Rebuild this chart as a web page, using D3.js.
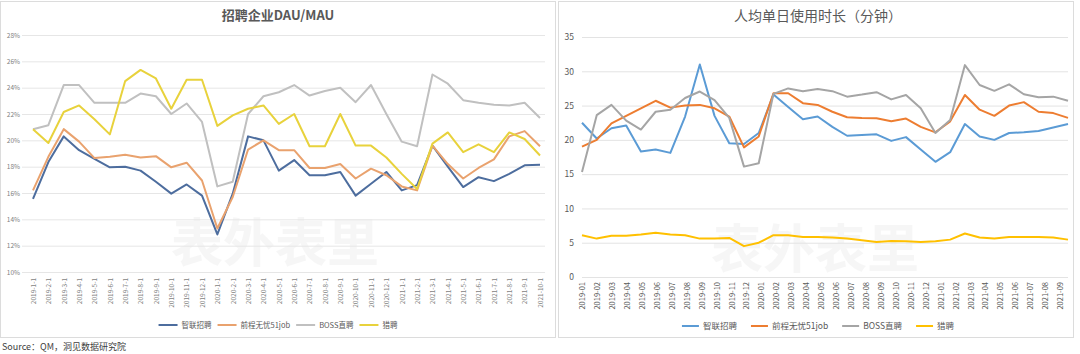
<!DOCTYPE html>
<html lang="zh">
<head>
<meta charset="utf-8">
<style>
  body { margin: 0; background: #fff; }
  text { font-family: "Noto Sans CJK SC", "Noto Sans", sans-serif; }
</style>
</head>
<body>
<script src="https://d3js.org/d3.v7.min.js"></script>
<script>
// ---- left chart: 招聘企业DAU/MAU (%) ----
const monthsL = ["2019-1-1","2019-2-1","2019-3-1","2019-4-1","2019-5-1","2019-6-1","2019-7-1","2019-8-1","2019-9-1","2019-10-1","2019-11-1","2019-12-1",
  "2020-1-1","2020-2-1","2020-3-1","2020-4-1","2020-5-1","2020-6-1","2020-7-1","2020-8-1","2020-9-1","2020-10-1","2020-11-1","2020-12-1",
  "2021-1-1","2021-2-1","2021-3-1","2021-4-1","2021-5-1","2021-6-1","2021-7-1","2021-8-1","2021-9-1","2021-10-1"];
const zhilianDau = [15.55,18.35,20.3,19.25,18.6,17.95,18.0,17.7,16.85,15.95,16.65,15.8,12.85,15.95,20.3,20.0,17.7,18.5,17.35,17.35,17.6,15.8,16.7,17.6,16.2,16.6,19.6,18.0,16.45,17.2,16.9,17.45,18.1,18.15];
const qianchengDau = [16.2,18.75,20.85,19.9,18.65,18.75,18.9,18.7,18.8,17.95,18.3,16.95,13.3,15.7,19.3,20.0,19.25,19.25,17.9,17.9,18.2,17.1,17.85,17.35,16.5,16.2,19.6,18.2,17.1,17.9,18.55,20.3,20.7,19.55];
const bossDau = [20.84,21.15,24.2,24.2,22.85,22.85,22.85,23.55,23.35,22.0,22.8,21.4,16.5,16.85,22.0,23.35,23.65,24.2,23.4,23.75,24.0,22.9,24.2,22.0,19.9,19.55,25.0,24.3,23.05,22.85,22.7,22.65,22.85,21.7];
const liepinDau = [20.84,19.8,22.15,22.65,21.6,20.45,24.5,25.35,24.7,22.4,24.6,24.6,21.1,21.9,22.4,22.65,21.25,22.0,19.55,19.55,22.0,19.6,19.6,18.7,17.45,16.3,19.75,20.6,19.1,19.7,19.1,20.6,20.1,18.85];
const ticksL = [10,12,14,16,18,20,22,24,26,28];

// ---- right chart: 人均单日使用时长（分钟） ----
const monthsR = ["2019-01","2019-02","2019-03","2019-04","2019-05","2019-06","2019-07","2019-08","2019-09","2019-10","2019-11","2019-12",
  "2020-01","2020-02","2020-03","2020-04","2020-05","2020-06","2020-07","2020-08","2020-09","2020-10","2020-11","2020-12",
  "2021-01","2021-02","2021-03","2021-04","2021-05","2021-06","2021-07","2021-08","2021-09"];
const zhilianTime = [22.5,20.2,21.7,22.1,18.3,18.6,18.1,23.4,31.0,23.5,19.5,19.4,21.0,26.6,24.8,23.0,23.4,21.9,20.6,20.7,20.8,19.85,20.4,18.6,16.8,18.2,22.3,20.5,20.0,21.0,21.1,21.3,21.8,22.3];
const qianchengTime = [19.0,20.0,22.4,23.5,24.6,25.7,24.7,25.0,25.1,24.6,23.4,18.9,20.5,26.8,26.8,25.35,25.1,24.1,23.3,23.2,23.15,22.7,23.1,21.9,21.1,22.7,26.55,24.4,23.5,25.0,25.5,24.1,23.9,23.2];
const bossTime = [15.3,23.6,25.1,22.8,21.5,24.1,24.4,26.1,27.05,25.8,23.2,16.1,16.6,26.7,27.5,27.1,27.4,27.1,26.3,26.6,26.95,25.9,26.55,24.6,21.0,22.9,30.9,28.0,27.15,28.1,26.65,26.2,26.3,25.7];
const liepinTime = [6.1,5.6,6.0,6.0,6.2,6.45,6.2,6.1,5.6,5.6,5.7,4.5,5.0,6.1,6.1,5.85,5.85,5.75,5.6,5.35,5.1,5.25,5.2,5.1,5.2,5.45,6.35,5.75,5.6,5.85,5.85,5.85,5.75,5.45];
const ticksR = [0,5,10,15,20,25,30,35];

const names = ["智联招聘","前程无忧51job","BOSS直聘","猎聘"];
const colorsL = ["#4d6d9e","#e9a26e","#c0c0c0","#e8d23c"];
const colorsR = ["#5b9bd5","#ed7d31","#a5a5a5","#ffc000"];

const svg = d3.select("body").append("svg")
  .attr("width", 1080).attr("height", 354);

// panel frames
svg.append("rect").attr("x", 0.5).attr("y", 1.5).attr("width", 555).attr("height", 336)
  .attr("fill", "#fff").attr("stroke", "#dcdcdc");
svg.append("rect").attr("x", 558.5).attr("y", 1.5).attr("width", 515).attr("height", 336)
  .attr("fill", "#fff").attr("stroke", "#dcdcdc");

// faint watermark
svg.append("text").attr("x", 275).attr("y", 262).attr("text-anchor", "middle")
  .attr("font-size", 52).attr("font-weight", "bold").attr("fill", "#000").attr("opacity", 0.03)
  .text("表外表里");
svg.append("text").attr("x", 815).attr("y", 268).attr("text-anchor", "middle")
  .attr("font-size", 52).attr("font-weight", "bold").attr("fill", "#000").attr("opacity", 0.03)
  .text("表外表里");

function drawLegend(g, cx, y, colors, fs, lineW, gap) {
  const items = g.selectAll("g.li").data(names).enter().append("g").attr("class", "li");
  items.append("line").attr("x1", 0).attr("x2", lineW).attr("y1", 0).attr("y2", 0)
    .attr("stroke", (d, i) => colors[i]).attr("stroke-width", 2);
  items.append("text").attr("x", lineW + 4).attr("dy", "0.35em")
    .attr("font-size", fs).attr("fill", "#595959").text(d => d);
  let widths = [];
  items.each(function () { widths.push(lineW + 4 + d3.select(this).select("text").node().getComputedTextLength()); });
  const total = d3.sum(widths) + gap * (widths.length - 1);
  let x = cx - total / 2;
  items.attr("transform", (d, i) => { const t = "translate(" + x + "," + y + ")"; x += widths[i] + gap; return t; });
}

// ================= LEFT =================
const gL = svg.append("g");
const xL = d3.scalePoint().domain(monthsL).range([33, 540]);
const yL = d3.scaleLinear().domain([10, 28]).range([272, 35]);

gL.append("text").attr("x", 278).attr("y", 20).attr("text-anchor", "middle")
  .attr("font-size", 13).attr("font-weight", "bold").attr("fill", "#595959").text("招聘企业DAU/MAU");

const yAxisL = d3.axisLeft(yL).tickValues(ticksL).tickSize(-523).tickFormat(d => d + "%");
gL.append("g").attr("transform", "translate(22,0)").call(yAxisL)
  .call(g => g.select(".domain").remove())
  .call(g => g.selectAll(".tick line").attr("stroke", "#e6e6e6"))
  .call(g => g.selectAll(".tick text").attr("x", -2).attr("font-size", 6.5).attr("fill", "#7f7f7f"));

const xAxisL = d3.axisBottom(xL).tickSize(0);
gL.append("g").attr("transform", "translate(0,272)").call(xAxisL)
  .call(g => g.select(".domain").remove())
  .call(g => g.selectAll(".tick text")
    .attr("font-size", 6.5).attr("fill", "#7f7f7f")
    .attr("text-anchor", "end").attr("transform", "translate(0,6) rotate(-90)")
    .attr("x", 0).attr("y", 0).attr("dy", "0.35em"));

const seriesL = [zhilianDau, qianchengDau, bossDau, liepinDau];
const lineL = d3.line().x((d, i) => xL(monthsL[i])).y(d => yL(d));
gL.selectAll("path.s").data(seriesL).enter().append("path")
  .attr("fill", "none").attr("stroke", (d, i) => colorsL[i]).attr("stroke-width", 2)
  .attr("stroke-linejoin", "round").attr("d", lineL);

drawLegend(gL.append("g"), 278, 325, colorsL, 7.5, 19, 6);

// ================= RIGHT =================
const gR = svg.append("g");
const xRlab = d3.scalePoint().domain(monthsR).range([582, 1060]);
const xR = d3.scaleLinear().domain([0, zhilianTime.length - 1]).range([582, 1068]);
const yR = d3.scaleLinear().domain([0, 35]).range([277, 37]);

gR.append("text").attr("x", 818).attr("y", 21).attr("text-anchor", "middle")
  .attr("font-size", 14).attr("fill", "#595959").text("人均单日使用时长（分钟）");

const yAxisR = d3.axisLeft(yR).tickValues(ticksR).tickSize(-486);
gR.append("g").attr("transform", "translate(582,0)").call(yAxisR)
  .call(g => g.select(".domain").remove())
  .call(g => g.selectAll(".tick line").attr("stroke", "#e3e3e3"))
  .call(g => g.selectAll(".tick text").attr("x", -8).attr("font-size", 8.5).attr("fill", "#595959"));

const xAxisR = d3.axisBottom(xRlab).tickSize(0);
gR.append("g").attr("transform", "translate(0,277)").call(xAxisR)
  .call(g => g.select(".domain").remove())
  .call(g => g.selectAll(".tick text")
    .attr("font-size", 7.5).attr("fill", "#595959")
    .attr("text-anchor", "end").attr("transform", "translate(0,5) rotate(-90)")
    .attr("x", 0).attr("y", 0).attr("dy", "0.35em"));

const seriesR = [zhilianTime, qianchengTime, bossTime, liepinTime];
const lineR = d3.line().x((d, i) => xR(i)).y(d => yR(d));
gR.selectAll("path.s").data(seriesR).enter().append("path")
  .attr("fill", "none").attr("stroke", (d, i) => colorsR[i]).attr("stroke-width", 2)
  .attr("stroke-linejoin", "round").attr("d", lineR);

drawLegend(gR.append("g"), 818, 326, colorsR, 8.5, 17, 14);

// source
svg.append("text").attr("x", 2).attr("y", 350).attr("font-size", 9).attr("fill", "#404040")
  .text("Source：QM，洞见数据研究院");
</script>
</body>
</html>
